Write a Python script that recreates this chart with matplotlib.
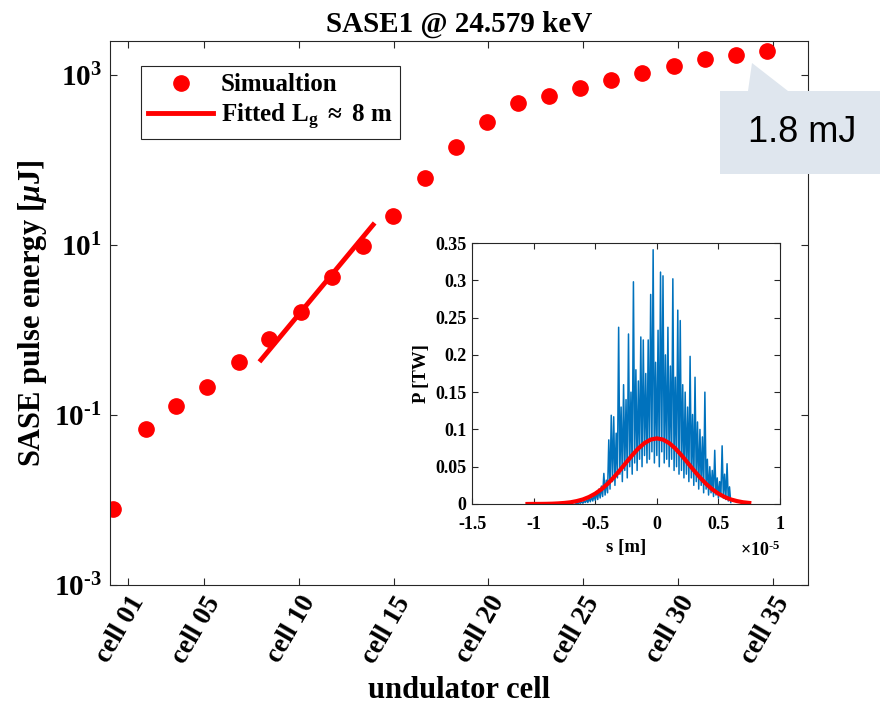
import numpy as np
import matplotlib
matplotlib.use('Agg')
import matplotlib.pyplot as mpl
from matplotlib.patches import Polygon
from matplotlib.ticker import FixedLocator, FixedFormatter, NullLocator

########################################################################################
# DATA
########################################################################################

# position along the undulator line, in units of cells
cell_pos = [0.21, 1.95, 3.53, 5.17, 6.85, 8.43, 10.12, 11.76, 13.39, 14.97, 16.66,
            18.29, 19.93, 21.56, 23.19, 24.83, 26.46, 28.10, 29.78, 31.42, 33.05, 34.69]
# SASE pulse energy [uJ]
energy_uJ = [0.0078, 0.068, 0.128, 0.213, 0.42, 0.78, 1.63, 4.2, 9.7, 21.9, 61.4,
             142, 280, 469, 566, 703, 874, 1056, 1276, 1542, 1720, 1915]

# exponential fit (straight line on log axis), end points
fit_pos = [8.01, 13.92]
fit_energy = [0.443, 17.2]

cell_ticks = [1, 5, 10, 15, 20, 25, 30, 35]
cell_labels = ['cell 01', 'cell 05', 'cell 10', 'cell 15', 'cell 20', 'cell 25', 'cell 30', 'cell 35']
e_ticks = [1e-3, 1e-1, 1e1, 1e3]
e_labels = [r'$\mathbf{10^{\text{-}3}}$', r'$\mathbf{10^{\text{-}1}}$',
            r'$\mathbf{10^{1}}$', r'$\mathbf{10^{3}}$']

# inset: power profile at saturation, s in units of 1e-6 m, P in TW
s_um = [-6.6, -6.5, -6.4, -6.3, -6.2, -6.1, -6.0, -5.9, -5.8, -5.7,
        -5.6, -5.5, -5.4, -5.3, -5.2, -5.1, -5.0, -4.9, -4.8, -4.7,
        -4.6, -4.5, -4.4, -4.3, -4.2, -4.1, -4.0, -3.9, -3.8, -3.7,
        -3.6, -3.5, -3.4, -3.3, -3.2, -3.1, -3.0, -2.9, -2.8, -2.7,
        -2.6, -2.5, -2.4, -2.3, -2.2, -2.1, -2.0, -1.9, -1.8, -1.7,
        -1.6, -1.5, -1.4, -1.3, -1.2, -1.1, -1.0, -0.9, -0.8, -0.7,
        -0.6, -0.5, -0.4, -0.3, -0.2, -0.1, 0.0, 0.1, 0.2, 0.3,
        0.4, 0.5, 0.6, 0.7, 0.8, 0.9, 1.0, 1.1, 1.2, 1.3,
        1.4, 1.5, 1.6, 1.7, 1.8, 1.9, 2.0, 2.1, 2.2, 2.3,
        2.4, 2.5, 2.6, 2.7, 2.8, 2.9, 3.0, 3.1, 3.2, 3.3,
        3.4, 3.5, 3.6, 3.7, 3.8, 3.9, 4.0, 4.1, 4.2, 4.3,
        4.4, 4.5, 4.6, 4.7, 4.8, 4.9, 5.0, 5.1, 5.2, 5.3,
        5.4, 5.5, 5.6, 5.7, 5.8, 5.9, 6.0]
p_TW = [0.000, 0.001, 0.000, 0.002, 0.001, 0.003, 0.001, 0.004, 0.002, 0.006,
        0.002, 0.008, 0.003, 0.010, 0.004, 0.012, 0.005, 0.016, 0.006, 0.020,
        0.008, 0.024, 0.010, 0.041, 0.012, 0.032, 0.015, 0.086, 0.020, 0.119,
        0.030, 0.117, 0.025, 0.095, 0.035, 0.237, 0.040, 0.130, 0.030, 0.160,
        0.045, 0.140, 0.035, 0.228, 0.050, 0.150, 0.040, 0.298, 0.055, 0.180,
        0.045, 0.165, 0.060, 0.224, 0.050, 0.220, 0.065, 0.175, 0.055, 0.220,
        0.060, 0.281, 0.070, 0.341, 0.055, 0.190, 0.065, 0.233, 0.050, 0.311,
        0.070, 0.306, 0.055, 0.200, 0.060, 0.237, 0.050, 0.185, 0.060, 0.302,
        0.045, 0.170, 0.050, 0.260, 0.040, 0.246, 0.045, 0.160, 0.035, 0.150,
        0.040, 0.130, 0.030, 0.198, 0.035, 0.120, 0.025, 0.170, 0.030, 0.110,
        0.020, 0.100, 0.025, 0.090, 0.015, 0.150, 0.020, 0.060, 0.012, 0.050,
        0.015, 0.045, 0.010, 0.072, 0.012, 0.035, 0.008, 0.030, 0.010, 0.078,
        0.008, 0.040, 0.006, 0.054, 0.004, 0.023, 0.002]

# gaussian fit of the profile, s in 1e-5 m
gs = [-1.05, -1.00, -0.95, -0.90, -0.85, -0.80, -0.75, -0.70, -0.65, -0.60,
      -0.55, -0.50, -0.45, -0.40, -0.35, -0.30, -0.25, -0.20, -0.15, -0.10,
      -0.05, 0.00, 0.05, 0.10, 0.15, 0.20, 0.25, 0.30, 0.35, 0.40,
      0.45, 0.50, 0.55, 0.60, 0.65, 0.70, 0.75]
gp = [0.0000, 0.0001, 0.0001, 0.0002, 0.0004, 0.0008, 0.0014, 0.0023, 0.0039, 0.0061,
      0.0094, 0.0139, 0.0197, 0.0270, 0.0356, 0.0452, 0.0554, 0.0654, 0.0745, 0.0817,
      0.0864, 0.0880, 0.0864, 0.0817, 0.0745, 0.0654, 0.0554, 0.0452, 0.0356, 0.0270,
      0.0197, 0.0139, 0.0094, 0.0061, 0.0039, 0.0023, 0.0014]

in_xticks = [-1.5, -1, -0.5, 0, 0.5, 1]
in_xlabels = ['-1.5', '-1', '-0.5', '0', '0.5', '1']
in_yticks = [0, 0.05, 0.1, 0.15, 0.2, 0.25, 0.3, 0.35]
in_ylabels = ['0', '0.05', '0.1', '0.15', '0.2', '0.25', '0.3', '0.35']

########################################################################################
# STYLE
########################################################################################

mpl.rcParams['font.family'] = ['Liberation Serif', 'DejaVu Serif']
mpl.rcParams['font.weight'] = 'bold'
mpl.rcParams['mathtext.fontset'] = 'custom'
mpl.rcParams['mathtext.rm'] = 'Liberation Serif:bold'
mpl.rcParams['mathtext.bf'] = 'Liberation Serif:bold'
mpl.rcParams['mathtext.it'] = 'Liberation Serif:italic:bold'
mpl.rcParams['axes.unicode_minus'] = False

axcol = '#262626'

########################################################################################
# MAIN PLOT
########################################################################################

fig = mpl.figure(figsize=(8.8, 7.16), dpi=100)
ax1 = fig.add_axes([0.125, 0.183, 0.7932, 0.7598])

ax1.semilogy(cell_pos, energy_uJ, 'o', color='red', markersize=11, label='Simualtion')
ax1.semilogy(fit_pos, fit_energy, '-', color='red', linewidth=3.5,
             label=r'Fitted L$_{\mathbf{g}}$ $\approx$ 8 m')

ax1.set_xlim(0.05, 36.85)
ax1.set_ylim(1e-3, 2.5e3)

ax1.xaxis.set_major_locator(FixedLocator(cell_ticks))
ax1.xaxis.set_major_formatter(FixedFormatter(cell_labels))
ax1.yaxis.set_major_locator(FixedLocator(e_ticks))
ax1.yaxis.set_major_formatter(FixedFormatter(e_labels))
ax1.yaxis.set_minor_locator(NullLocator())

ax1.tick_params(which='both', direction='in', top=True, right=True, length=5,
                width=0.8, color=axcol)
ax1.tick_params(axis='y', labelsize=21, pad=6)
ax1.tick_params(axis='x', labelsize=19.5, pad=5)
for lab in ax1.get_xticklabels():
    lab.set_rotation(60)
    lab.set_ha('right')
    lab.set_va('top')
    lab.set_rotation_mode('anchor')
for sp in ax1.spines.values():
    sp.set_color(axcol)
    sp.set_linewidth(0.8)

ax1.set_title('SASE1 @ 24.579 keV', fontsize=21, fontweight='bold', pad=7)
ax1.set_xlabel('undulator cell', fontsize=22, fontweight='bold')
ax1.set_ylabel(r'SASE pulse energy [$\mu$J]', fontsize=22, fontweight='bold')
ax1.xaxis.set_label_coords(0.5, -0.168)
ax1.yaxis.set_label_coords(-0.087, 0.5)

leg = ax1.legend(loc='upper left', bbox_to_anchor=(0.044, 0.954), borderaxespad=0,
                 fontsize=18, fancybox=False, framealpha=1, edgecolor=axcol,
                 handlelength=2.6, handletextpad=0.3, labelspacing=0.2, borderpad=0.3)
leg.get_frame().set_linewidth(0.8)

########################################################################################
# INSET
########################################################################################

ax2 = fig.add_axes([0.5364, 0.2961, 0.35, 0.3645])
ax2.plot(np.array(s_um) / 10.0, p_TW, color='#0072BD', linewidth=1.1)
ax2.plot(gs, gp, color='red', linewidth=3)
ax2.set_xlim(-1.5, 1)
ax2.set_ylim(0, 0.35)
ax2.xaxis.set_major_locator(FixedLocator(in_xticks))
ax2.xaxis.set_major_formatter(FixedFormatter(in_xlabels))
ax2.yaxis.set_major_locator(FixedLocator(in_yticks))
ax2.yaxis.set_major_formatter(FixedFormatter(in_ylabels))
ax2.tick_params(direction='in', top=True, right=True, length=4, width=0.8,
                color=axcol, labelsize=13, pad=4)
ax2.tick_params(axis='x', pad=9)
for sp in ax2.spines.values():
    sp.set_color(axcol)
    sp.set_linewidth(0.8)
ax2.set_xlabel('s [m]', fontsize=13.5, fontweight='bold', labelpad=4)
ax2.set_ylabel('P [TW]', fontsize=13.5, fontweight='bold', labelpad=4)
ax2.text(1.0, -0.176, r'$\times\mathbf{10^{\text{-}5}}$', transform=ax2.transAxes,
         ha='right', va='center', fontsize=13)

########################################################################################
# CALLOUT
########################################################################################

W, H = 880.0, 716.0
callout = [(720, 91), (748, 91), (752, 63), (788, 91), (880, 91), (880, 174), (720, 174)]
callout = [(x / W, 1 - y / H) for x, y in callout]
fig.add_artist(Polygon(callout, closed=True, transform=fig.transFigure,
                       facecolor='#DFE6EE', edgecolor='none', zorder=10))
fig.text(802 / W, 1 - 132 / H, '1.8 mJ', family='Liberation Sans', fontweight='normal',
         fontsize=26, ha='center', va='center', color='black', zorder=11)

fig.savefig('out.png', dpi=100)
